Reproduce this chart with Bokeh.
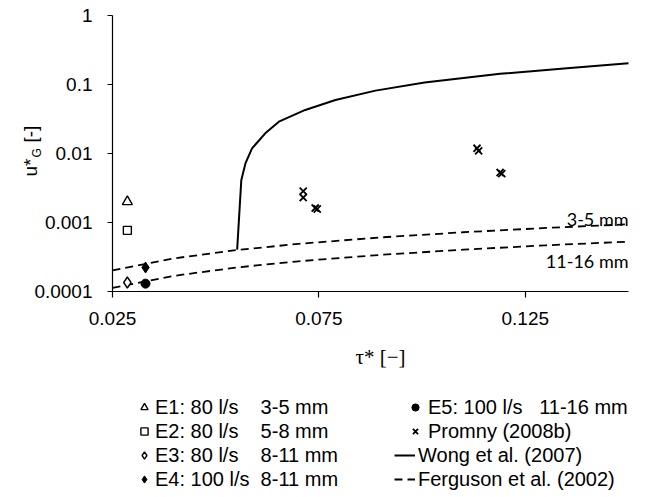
from bokeh.plotting import figure
from bokeh.models import (Range1d, FixedTicker, CustomJSTickFormatter, Legend,
                          LegendItem, Label)
from bokeh.embed import file_html
from bokeh.resources import INLINE
import math

# ---- data ----
E1_X, E1_Y = [0.0286], [0.0020]
E2_X, E2_Y = [0.0286], [0.00077]
E3_X, E3_Y = [0.0286], [0.000135]
E4_X, E4_Y = [0.0330], [0.000223]
E5_X, E5_Y = [0.0330], [0.00013]

PROMNY_X = [0.0712, 0.0712, 0.0741, 0.0746, 0.1133, 0.1137, 0.1189, 0.1193]
PROMNY_Y = [0.00285, 0.0023, 0.00162, 0.00157, 0.0119, 0.0109, 0.0053, 0.0051]

WONG_X = [0.0552, 0.0562, 0.0572, 0.0588, 0.0620, 0.0653, 0.0717, 0.0790,
          0.0887, 0.1006, 0.1189, 0.1351, 0.1500]
WONG_Y = [0.000405, 0.0041, 0.00718, 0.01186, 0.0196, 0.0289, 0.0428, 0.0597,
          0.0815, 0.1067, 0.1426, 0.1726, 0.204]

FERG_X = [0.025, 0.040, 0.055, 0.070, 0.090, 0.110, 0.130, 0.150]
FERG_3_5 = [0.000202, 0.000303, 0.000398, 0.000490, 0.000608, 0.000722, 0.000834, 0.000943]
FERG_11_16 = [0.000113, 0.000169, 0.000223, 0.000274, 0.000340, 0.000404, 0.000467, 0.000528]

X_MIN, X_MAX = 0.025, 0.15
Y_MIN, Y_MAX = 0.0001, 1.0
X_TICKS = [0.025, 0.075, 0.125]
Y_TICKS = [0.0001, 0.001, 0.01, 0.1, 1]

NB = "\u00a0"
LABELS = {
    "E1": "E1: 80 l/s" + NB * 4 + "3-5 mm",
    "E2": "E2: 80 l/s" + NB * 4 + "5-8 mm",
    "E3": "E3: 80 l/s" + NB * 4 + "8-11 mm",
    "E4": "E4: 100 l/s" + NB * 2 + "8-11 mm",
    "E5": "E5: 100 l/s" + NB * 3 + "11-16 mm",
    "P": "Promny (2008b)",
    "W": "Wong et al. (2007)",
    "F": "Ferguson et al. (2002)",
}
FONT = "Liberation Sans"

# ---- layout geometry (page pixels) ----
OFF = 0                     # where the figure's top-left lands on the page
FIG_W, FIG_H = 640, 492
AX_L, AX_R = 112, 628       # page x of X_MIN / X_MAX
AX_T, AX_B = 15, 291        # page y of Y_MAX / Y_MIN

kx = (X_MAX - X_MIN) / (AX_R - AX_L)
x_start = X_MIN - (AX_L - OFF) * kx
x_end = X_MAX + (OFF + FIG_W - AX_R) * kx
ky = (math.log10(Y_MAX) - math.log10(Y_MIN)) / (AX_B - AX_T)
y_end = 10 ** (math.log10(Y_MAX) + (AX_T - OFF) * ky)
y_start = 10 ** (math.log10(Y_MIN) - (OFF + FIG_H - AX_B) * ky)


def rx(px):
    return px - OFF


def ry(py):
    return OFF + FIG_H - py


p = figure(width=FIG_W, height=FIG_H, output_backend="svg", toolbar_location=None,
           y_axis_type="log",
           x_range=Range1d(x_start, x_end), y_range=Range1d(y_start, y_end),
           min_border=0, min_border_left=0, min_border_right=0,
           min_border_top=0, min_border_bottom=0)
p.outline_line_color = None
p.xgrid.grid_line_color = None
p.ygrid.grid_line_color = None
p.background_fill_color = "white"
p.border_fill_color = "white"

xa, ya = p.xaxis[0], p.yaxis[0]
xa.fixed_location = Y_MIN
ya.fixed_location = X_MIN
xa.bounds = (X_MIN, X_MAX)
ya.bounds = (Y_MIN, Y_MAX)
for ax in (xa, ya):
    ax.axis_line_color = "black"
    ax.axis_line_width = 1.2
    ax.major_tick_line_color = "black"
    ax.major_tick_line_width = 1.2
    ax.major_tick_in = 0
    ax.minor_tick_line_color = None
    ax.major_label_text_font = FONT
    ax.major_label_text_font_size = "19px"
    ax.major_label_text_color = "black"
xa.ticker = FixedTicker(ticks=X_TICKS)
ya.ticker = FixedTicker(ticks=Y_TICKS)
xa.formatter = CustomJSTickFormatter(code="return String(Number(tick.toPrecision(6)));")
ya.formatter = CustomJSTickFormatter(code="return String(Number(tick.toPrecision(6)));")
xa.major_tick_out = 6
ya.major_tick_out = 5
xa.major_label_standoff = 14
ya.major_label_standoff = 15

# lines
r_f1 = p.line(FERG_X, FERG_3_5, line_color="black", line_width=1.8, line_dash="8 5")
r_f2 = p.line(FERG_X, FERG_11_16, line_color="black", line_width=1.8, line_dash="8 5")
r_w = p.line(WONG_X, WONG_Y, line_color="black", line_width=2)

# markers
r1 = p.scatter(E1_X, E1_Y, marker="triangle", size=10, fill_color="white",
               line_color="black", line_width=1.4)
r2 = p.scatter(E2_X, E2_Y, marker="square", size=8, fill_color="white",
               line_color="black", line_width=1.4)
r3 = p.scatter(E3_X, E3_Y, marker="diamond", size=11, fill_color="white",
               line_color="black", line_width=1.4)
r4 = p.scatter(E4_X, E4_Y, marker="diamond", size=11, fill_color="black",
               line_color="black", line_width=1)
r5 = p.scatter(E5_X, E5_Y, marker="circle", size=9, fill_color="black",
               line_color="black", line_width=1)
rp = p.scatter(PROMNY_X, PROMNY_Y, marker="x", size=10, line_color="black",
               line_width=1.8)

# curve labels
p.add_layout(Label(x=FERG_X[-1], y=FERG_3_5[-1], text="3-5 mm", text_align="right",
                   text_baseline="alphabetic", y_offset=5, text_font="Lato",
                   text_font_size="18px", text_color="black"))
p.add_layout(Label(x=FERG_X[-1], y=FERG_11_16[-1], text="11-16 mm", text_align="right",
                   text_baseline="top", y_offset=-8, text_font="Lato",
                   text_font_size="18px", text_color="black"))

# axis titles
rot = math.pi / 2
p.add_layout(Label(x=rx(30), y=ry(176), x_units="screen", y_units="screen", text="u*",
                   angle=rot, text_align="left", text_baseline="alphabetic",
                   text_font=FONT, text_font_size="19px", text_color="black"))
p.add_layout(Label(x=rx(36), y=ry(157), x_units="screen", y_units="screen", text="G",
                   angle=rot, text_align="left", text_baseline="alphabetic",
                   text_font=FONT, text_font_size="12px", text_color="black"))
p.add_layout(Label(x=rx(30), y=ry(142), x_units="screen", y_units="screen", text="[-]",
                   angle=rot, text_align="left", text_baseline="alphabetic",
                   text_font=FONT, text_font_size="19px", text_color="black"))
p.add_layout(Label(x=rx(380), y=ry(356), x_units="screen", y_units="screen",
                   text="τ* [−]", text_align="center", text_baseline="alphabetic",
                   text_font="Liberation Serif", text_font_size="21px",
                   text_color="black"))


def make_legend(items, left_px, bottom_px, glyph_width, standoff):
    lg = Legend(items=items, location=(rx(left_px), ry(bottom_px)),
                orientation="vertical",
                label_text_font=FONT, label_text_font_size="20px",
                label_text_color="black", border_line_color=None,
                background_fill_alpha=0, padding=0, margin=0, spacing=0,
                label_height=24, glyph_height=20, glyph_width=glyph_width,
                label_standoff=standoff)
    p.add_layout(lg, "center")
    return lg


make_legend([LegendItem(label=LABELS["E1"], renderers=[r1]),
             LegendItem(label=LABELS["E2"], renderers=[r2]),
             LegendItem(label=LABELS["E3"], renderers=[r3]),
             LegendItem(label=LABELS["E4"], renderers=[r4])],
            135, 491, 18, 2)
make_legend([LegendItem(label=LABELS["E5"], renderers=[r5]),
             LegendItem(label=LABELS["P"], renderers=[rp])],
            406, 443, 18, 4)
make_legend([LegendItem(label=LABELS["W"], renderers=[r_w]),
             LegendItem(label=LABELS["F"], renderers=[r_f1])],
            394, 491, 21, 3)

open("out.html", "w").write(file_html(p, INLINE))
